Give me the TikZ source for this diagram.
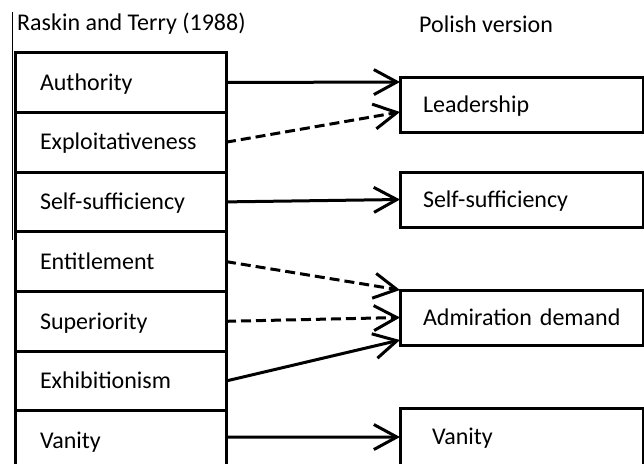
\documentclass[tikz,border=0pt]{standalone}
\usepackage{fontspec}
\setmainfont{Carlito}
\usetikzlibrary{positioning,arrows.meta}

\tikzset{
  head/.style={anchor=west, inner sep=0pt},
  trait/.style={draw, line width=3pt, outer sep=0pt, text width=161pt, inner xsep=25pt,
    align=left, minimum height=59.7pt, text height=15.5pt, text depth=0pt},
  factor/.style={draw, line width=3pt, outer sep=0pt, text width=197pt, inner xsep=23pt,
    align=left, minimum height=55pt, text height=15.5pt, text depth=0pt},
  link/.style={line width=3pt, -{Straight Barb[length=23pt,width=25pt]}},
  weak link/.style={link, dash pattern=on 10pt off 5pt}
}

\begin{document}
\begin{tikzpicture}[x=1pt, y=-1pt, font=\fontsize{24}{29}\selectfont]
  \useasboundingbox (0,0) rectangle (644,463);
  \draw[line width=1pt] (12,12) -- (12,240);

  \node[head] (rt) at (17,24) {Raskin and Terry (1988)};
  \node[head] (pl) at (419,24) {Polish version};

  % NPI scales (Raskin and Terry)
  \node[trait] (auth) at (120.5,82.5) {Authority};
  \node[trait, below=0pt of auth] (expl) {Exploitativeness};
  \node[trait, below=0pt of expl] (suff) {Self-sufficiency};
  \node[trait, below=0pt of suff] (enti) {Entitlement};
  \node[trait, below=0pt of enti] (supe) {Superiority};
  \node[trait, below=0pt of supe] (exhi) {Exhibitionism};
  \node[trait, below=0pt of exhi] (vani) {Vanity};

  % Polish factors
  \node[factor] (lead) at (521.5,104.5) {Leadership};
  \node[factor] (suffpl) at (521.5,199.5) {Self-sufficiency};
  \node[factor] (admi) at (521.5,317.5) {\mbox{Admiration demand}};
  \node[factor, minimum height=58pt, inner xsep=32pt, text width=179pt] (vanipl) at (521.5,437) {Vanity};

  \draw[link] (auth.east) -- ([yshift=22.5pt]lead.west);
  \draw[weak link] (expl.east) -- ([yshift=-7.5pt]lead.west);
  \draw[link] (suff.east) -- (suffpl.west);
  \draw[weak link] (enti.east) -- (admi.north west);
  \draw[weak link] (supe.east) -- (admi.west);
  \draw[link] (exhi.east) -- ([yshift=5pt]admi.south west);
  \draw[link] ([yshift=3.5pt]vani.east) -- (vanipl.west);
\end{tikzpicture}
\end{document}
